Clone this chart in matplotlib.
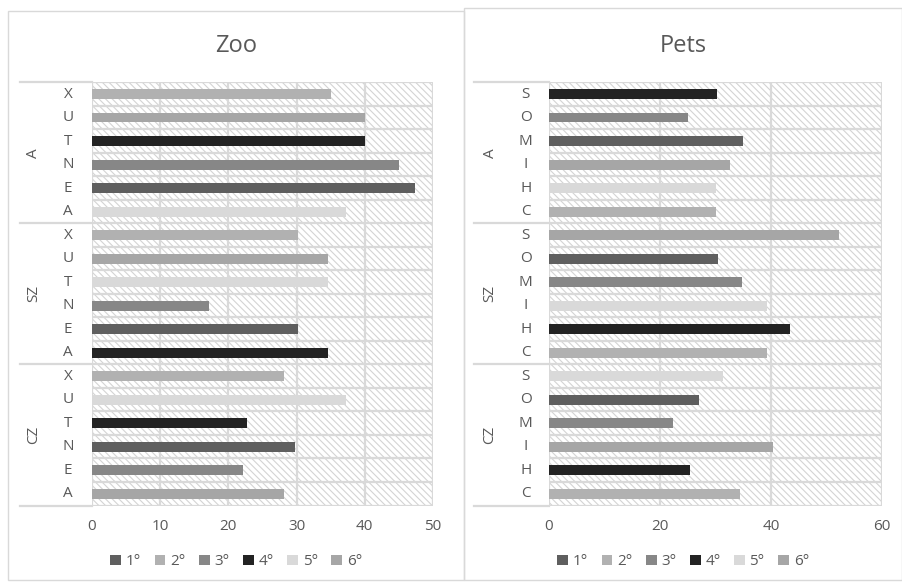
import matplotlib
matplotlib.use("Agg")
import matplotlib.pyplot as plt
from matplotlib.patches import Rectangle, Patch
from matplotlib.lines import Line2D

plt.rcParams['font.family'] = ['Open Sans', 'DejaVu Sans']
plt.rcParams['hatch.linewidth'] = 0.8

TXT = '#595959'
GRID = '#d9d9d9'

# rank colours (1° .. 6°)
rank_labels = ['1°', '2°', '3°', '4°', '5°', '6°']
rank_colors = ['#5f5f5f', '#b1b1b1', '#878787', '#232323', '#d9d9d9', '#a6a6a6']

# groups listed bottom to top
groups = ['CZ', 'SZ', 'A']

# Zoo
zoo_items = ['A', 'E', 'N', 'T', 'U', 'X']
zoo_cz = [28.2, 22.2, 29.8, 22.8, 37.2, 28.2]
zoo_sz = [34.6, 30.2, 17.2, 34.6, 34.6, 30.2]
zoo_a = [37.3, 47.4, 45.0, 40.0, 40.0, 35.0]
zoo_rank_cz = [6, 3, 1, 4, 5, 2]
zoo_rank_sz = [4, 1, 3, 5, 6, 2]
zoo_rank_a = [5, 1, 3, 4, 6, 2]

# Pets
pet_items = ['C', 'H', 'I', 'M', 'O', 'S']
pet_cz = [34.4, 25.4, 40.4, 22.4, 27.0, 31.3]
pet_sz = [39.2, 43.5, 39.2, 34.8, 30.5, 52.3]
pet_a = [30.0, 30.0, 32.6, 35.0, 25.1, 30.2]
pet_rank_cz = [2, 4, 6, 3, 1, 5]
pet_rank_sz = [2, 4, 5, 3, 1, 6]
pet_rank_a = [2, 5, 6, 1, 3, 4]

fig = plt.figure(figsize=(9.03, 5.84), dpi=100)


def panel(rect, frame, title, items, vals, ranks, xmax, step, ext, grp_x, item_x):
    ax = fig.add_axes(rect)
    fig.add_artist(Rectangle((frame[0], frame[1]), frame[2], frame[3],
                             transform=fig.transFigure, fill=False,
                             edgecolor=GRID, lw=1.0, zorder=-5))
    fig.text(frame[0] + frame[2] / 2, 0.922, title, ha='center', va='center',
             fontsize=17, color=TXT)

    # hatched plot area
    ax.add_patch(Rectangle((0, 0), 1, 1, transform=ax.transAxes,
                           facecolor='white', edgecolor='#d4d4d4',
                           hatch='\\\\\\\\\\', lw=0, zorder=0.1))

    n = len(items)
    ys, xs, cs, labels = [], [], [], []
    for g, (v, r) in enumerate(zip(vals, ranks)):
        for i in range(n):
            ys.append(g * n + i + 0.5)
            xs.append(v[i])
            cs.append(rank_colors[r[i] - 1])
            labels.append(items[i])
    ax.barh(ys, xs, height=0.42, color=cs, zorder=3)

    total = len(vals) * n
    ax.set_ylim(0, total)
    ax.set_xlim(0, xmax)
    ax.set_xticks(range(0, xmax + 1, step))
    ax.set_yticks([])
    ax.tick_params(axis='x', length=0, pad=10, labelsize=11, labelcolor=TXT)

    # row and column gridlines
    for y in range(total + 1):
        ax.axhline(y, color=GRID, lw=1.6, zorder=1)
    for x in range(0, xmax + 1, step):
        ax.axvline(x, color=GRID, lw=1.6, zorder=1)
    for s in ax.spines.values():
        s.set_visible(False)

    # two-level category labels
    tr = ax.get_yaxis_transform()
    for y, lab in zip(ys, labels):
        ax.text(item_x, y, lab, transform=tr, ha='center', va='center',
                fontsize=11, color=TXT)
    for g, name in enumerate(groups):
        ax.text(grp_x, g * n + n / 2, name, transform=tr, ha='center',
                va='center', rotation=90, fontsize=11, color=TXT)
    for g in range(len(vals) + 1):
        ax.add_line(Line2D([ext, 0], [g * n, g * n], transform=tr,
                           color=GRID, lw=1.6, clip_on=False, zorder=1))

    handles = [Patch(facecolor=c, label=l) for c, l in zip(rank_colors, rank_labels)]
    fig.legend(handles=handles, loc='center',
               bbox_to_anchor=(frame[0] + frame[2] / 2, 0.038),
               ncol=6, frameon=False, fontsize=11, labelcolor=TXT,
               handlelength=0.7, handleheight=0.7, handletextpad=0.3,
               columnspacing=0.9)
    return ax


panel([0.1019, 0.1344, 0.3776, 0.7247], (0.009, 0.007, 0.505, 0.975), 'Zoo',
      zoo_items, [zoo_cz, zoo_sz, zoo_a], [zoo_rank_cz, zoo_rank_sz, zoo_rank_a],
      50, 10, -0.211, -0.172, -0.07)
panel([0.608, 0.1344, 0.3688, 0.7247], (0.514, 0.007, 0.485, 0.979), 'Pets',
      pet_items, [pet_cz, pet_sz, pet_a], [pet_rank_cz, pet_rank_sz, pet_rank_a],
      60, 20, -0.225, -0.177, -0.07)

fig.savefig('out.png', dpi=100)
